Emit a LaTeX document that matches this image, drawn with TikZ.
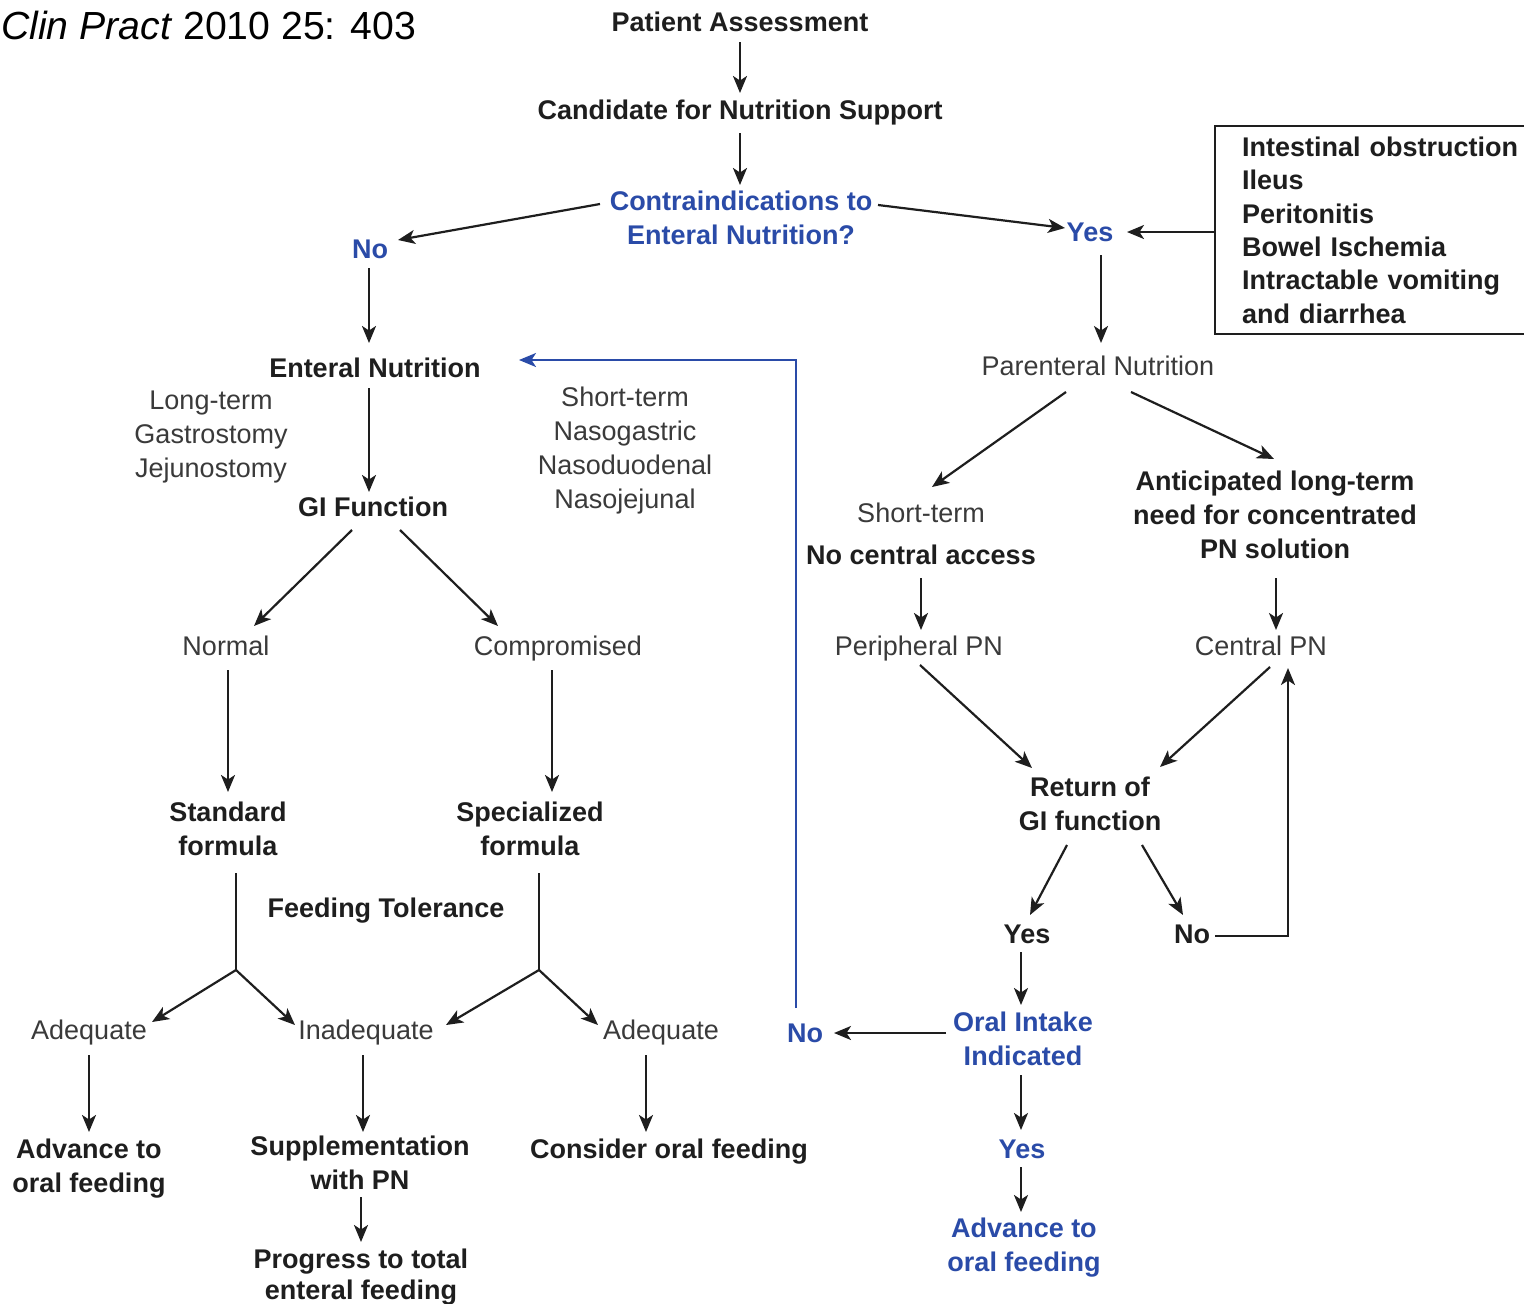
\documentclass[tikz,border=0pt]{standalone}
\usepackage{fontspec}
\setmainfont{Liberation Sans}
\usetikzlibrary{arrows.meta,calc}
\definecolor{flowblue}{HTML}{2A4BA8}
\definecolor{ink}{HTML}{1E1E1E}
\definecolor{softink}{HTML}{3A3A3A}
\begin{document}
\begin{tikzpicture}[x=1pt,y=-1pt,
  lbl/.style={inner sep=0pt,align=center,font=\fontsize{27}{34}\selectfont},
  bold/.style={lbl,font=\fontsize{27}{34}\selectfont\bfseries,text=ink},
  plain/.style={lbl,text=softink},
  bluebold/.style={lbl,font=\fontsize{27}{34}\selectfont\bfseries,text=flowblue},
  arr/.style={line width=2.2pt,draw=ink,-{Stealth[length=17pt,width=14pt,inset=4.5pt]}},
  link/.style={line width=2.2pt,draw=ink},
  bluearr/.style={line width=2.2pt,draw=flowblue,-{Stealth[length=17pt,width=14pt,inset=4.5pt]}}]
\useasboundingbox (0,0) rectangle (1524,1304);
\fill[white] (0,0) rectangle (1524,1304);

% citation
\node[inner sep=0pt,anchor=west,font=\fontsize{39.2}{44}\selectfont] (cite) at (1,25) {\textit{Clin Pract} 2010 25: 403};

% decision chain at top
\node[bold] (pa) at (740,22) {Patient Assessment};
\node[bold] (cand) at (740,113) {Candidate for Nutrition Support};
\node[bluebold] (ci) at (741,218) {Contraindications to\\Enteral Nutrition?};
\node[bluebold] (no1) at (370,249) {No};
\node[bluebold] (yes1) at (1090,232) {Yes};
\node[draw=ink,line width=2.2pt,anchor=north west,minimum width=360pt,minimum height=208pt,
      inner xsep=27pt,inner ysep=0pt,text width=306pt,align=left,
      font=\fontsize{27}{33.4}\selectfont\bfseries,text=ink] (box) at (1214,125)
  {Intestinal obstruction\\Ileus\\Peritonitis\\Bowel Ischemia\\Intractable vomiting\\and diarrhea};

% enteral branch
\node[bold] (en) at (375,368) {Enteral Nutrition};
\node[plain] (lt) at (211,437) {Long-term\\Gastrostomy\\Jejunostomy};
\node[plain] (st) at (625,451) {Short-term\\Nasogastric\\Nasoduodenal\\Nasojejunal};
\node[bold] (gi) at (373,507) {GI Function};
\node[plain] (normal) at (226,646) {Normal};
\node[plain] (comp) at (558,649) {Compromised};
\node[bold] (std) at (228,829) {Standard\\formula};
\node[bold] (spec) at (530,829) {Specialized\\formula};
\node[bold] (ft) at (386,911) {Feeding Tolerance};
\node[plain] (ad1) at (89,1033) {Adequate};
\node[plain] (inad) at (366,1033) {Inadequate};
\node[plain] (ad2) at (661,1033) {Adequate};
\node[bold] (adv1) at (89,1169) {Advance to\\oral feeding};
\node[bold] (supp) at (360,1163) {Supplementation\\with PN};
\node[bold,font=\fontsize{27}{31}\selectfont\bfseries] (prog) at (361,1277) {Progress to total\\enteral feeding};
\node[bold] (cons) at (669,1152) {Consider oral feeding};
\coordinate (b1) at (236,970);
\coordinate (b2) at (539,970);

% parenteral branch
\node[plain] (pn) at (1098,366) {Parenteral Nutrition};
\node[plain] (stp) at (921,513) {Short-term};
\node[bold] (nca) at (921,555) {No central access};
\node[bold] (ant) at (1275,515) {Anticipated long-term\\need for concentrated\\PN solution};
\node[plain] (ppn) at (919,649) {Peripheral PN};
\node[plain] (cpn) at (1261,646) {Central PN};
\node[bold] (ret) at (1090,804) {Return of\\GI function};
\node[bold] (yes2) at (1027,934) {Yes};
\node[bold] (no2) at (1192,934) {No};
\node[bluebold] (oral) at (1023,1039) {Oral Intake\\Indicated};
\node[bluebold] (no3) at (805,1033) {No};
\node[bluebold] (yes3) at (1022,1149) {Yes};
\node[bluebold] (adv2) at (1024,1248) {Advance to\\oral feeding};

% connectors: top
\draw[arr] ($(pa)+(0,20)$) -- ($(cand)+(0,-20)$);
\draw[arr] ($(cand)+(0,20)$) -- ($(ci)+(-1,-33)$);
\draw[arr] ($(ci)+(-141,-14)$) -- ($(no1)+(28,-9)$);
\draw[arr] ($(ci)+(137,-13)$) -- ($(yes1)+(-25,-4)$);
\draw[arr] (box.west |- yes1) -- ($(yes1)+(37,0)$);

% connectors: enteral
\draw[arr] ($(no1)+(-1,19)$) -- ($(en)+(-6,-25)$);
\draw[arr] ($(en)+(-6,20)$) -- ($(gi)+(-4,-15)$);
\draw[arr] ($(gi)+(-21,23)$) -- ($(normal)+(28,-20)$);
\draw[arr] ($(gi)+(27,23)$) -- ($(comp)+(-60,-23)$);
\draw[arr] ($(normal)+(2,24)$) -- ($(std)+(0,-37)$);
\draw[arr] ($(comp)+(-6,21)$) -- ($(spec)+(22,-37)$);
\draw[link] ($(std)+(8,44)$) -- (b1);
\draw[arr] (b1) -- ($(ad1)+(63,-11)$);
\draw[arr] (b1) -- ($(inad)+(-71,-8)$);
\draw[link] ($(spec)+(9,44)$) -- (b2);
\draw[arr] (b2) -- ($(inad)+(80,-8)$);
\draw[arr] (b2) -- ($(ad2)+(-63,-8)$);
\draw[arr] ($(ad1)+(0,22)$) -- ($(adv1)+(0,-37)$);
\draw[arr] ($(inad)+(-3,22)$) -- ($(supp)+(3,-31)$);
\draw[arr] ($(supp)+(1,34)$) -- ($(prog)+(0,-35)$);
\draw[arr] ($(ad2)+(-15,22)$) -- ($(cons)+(-23,-20)$);

% connectors: parenteral
\draw[arr] ($(yes1)+(11,23)$) -- ($(pn)+(3,-23)$);
\draw[arr] ($(pn)+(-32,26)$) -- ($(stp)+(11,-26)$);
\draw[arr] ($(pn)+(33,26)$) -- ($(ant)+(-1,-56)$);
\draw[arr] ($(nca)+(0,23)$) -- ($(ppn)+(2,-19)$);
\draw[arr] ($(ant)+(1,63)$) -- ($(cpn)+(15,-16)$);
\draw[arr] ($(ppn)+(1,16)$) -- ($(ret)+(-58,-36)$);
\draw[arr] ($(cpn)+(9,21)$) -- ($(ret)+(70,-37)$);
\draw[arr] ($(ret)+(-23,41)$) -- ($(yes2)+(3,-19)$);
\draw[arr] ($(ret)+(52,41)$) -- ($(no2)+(-9,-19)$);
\draw[arr] ($(no2)+(23,2)$) -| ($(cpn)+(27,22)$);
\draw[arr] ($(yes2)+(-6,18)$) -- ($(oral)+(-2,-34)$);
\draw[arr] ($(oral)+(-77,-6)$) -- ($(no3)+(29,0)$);
\draw[bluearr] ($(no3)+(-9,-25)$) |- ($(en)+(144,-8)$);
\draw[arr] ($(oral)+(-2,36)$) -- ($(yes3)+(-1,-19)$);
\draw[arr] ($(yes3)+(-1,18)$) -- ($(adv2)+(-3,-36)$);
\end{tikzpicture}
\end{document}
